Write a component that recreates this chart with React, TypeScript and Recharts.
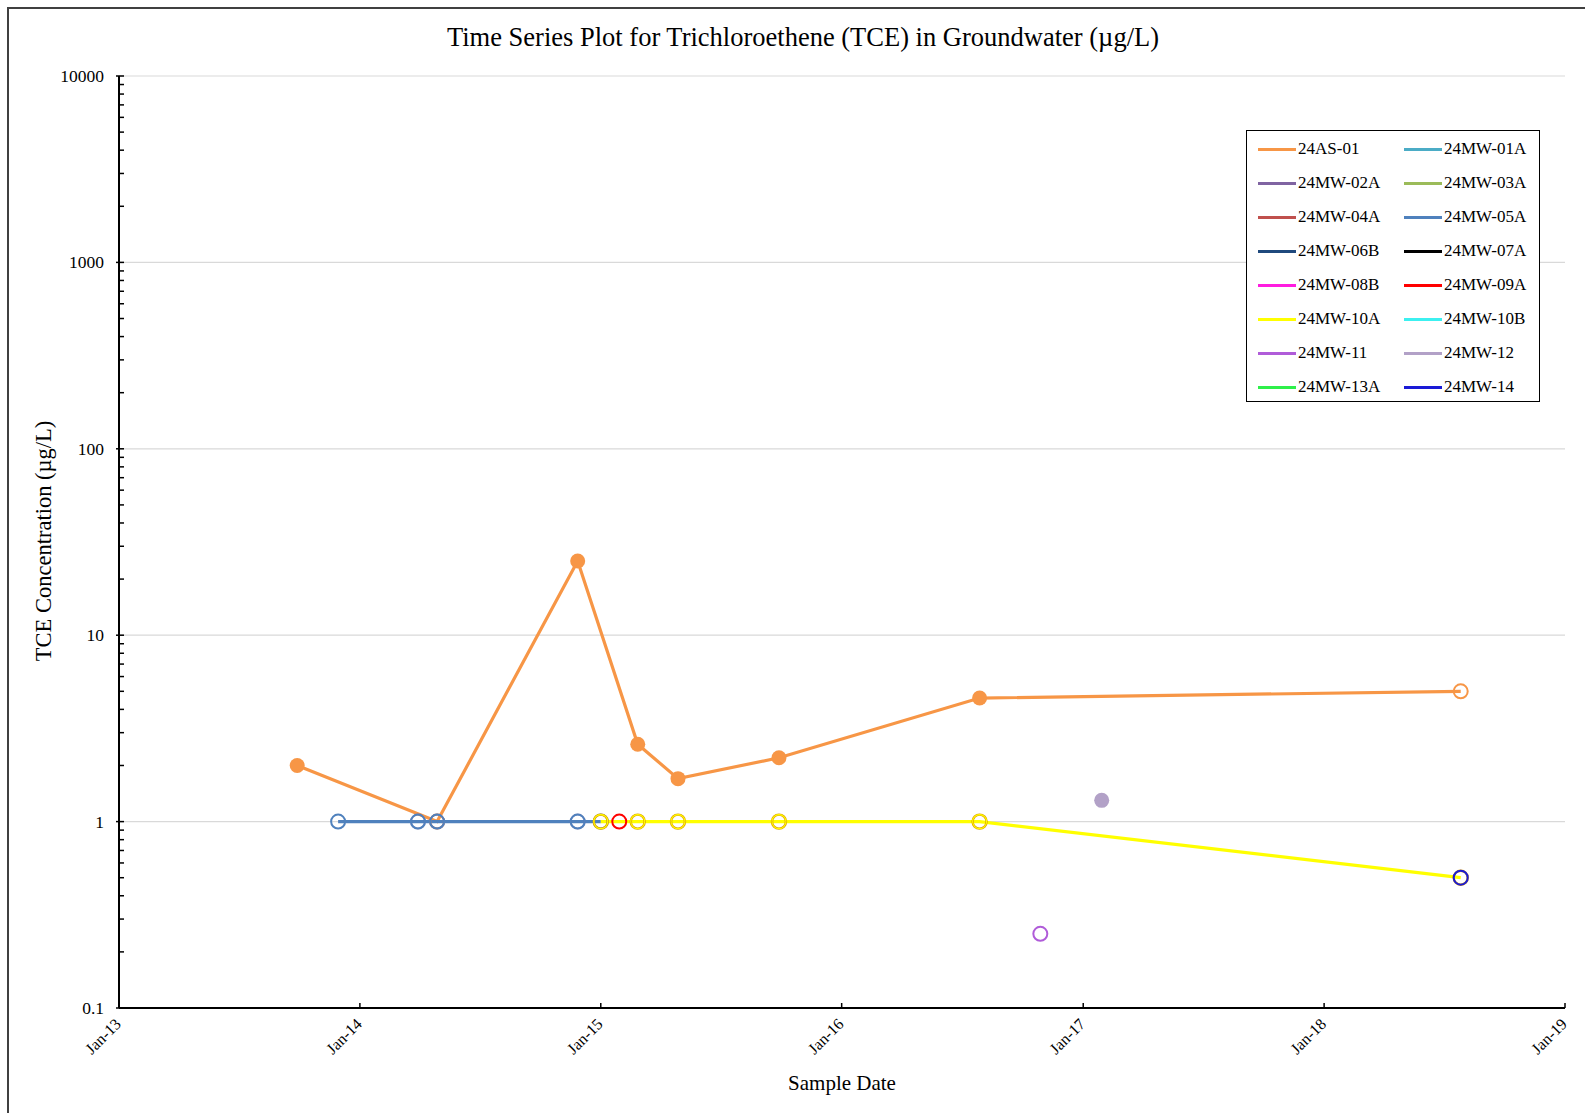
import { LineChart, Line, XAxis, YAxis, ReferenceLine } from 'recharts';

const FONT = '"Liberation Serif", "Times New Roman", serif';

// wells, in legend order (later wells draw on top)
const WELLS = [
  '24AS-01', '24MW-01A', '24MW-02A', '24MW-03A', '24MW-04A', '24MW-05A', '24MW-06B', '24MW-07A',
  '24MW-08B', '24MW-09A', '24MW-10A', '24MW-10B', '24MW-11', '24MW-12', '24MW-13A', '24MW-14',
];
const WELL_COLORS = [
  '#F79646', '#4BACC6', '#8064A2', '#9BBB59', '#C0504D', '#4F81BD', '#1F497D', '#000000',
  '#FF1CE0', '#FF0000', '#FFFF00', '#3CF0F0', '#B05CD9', '#B2A1C7', '#2EF04A', '#1A1AD6',
];

// sample results (ug/L); detect=false -> non-detect, hollow marker at reporting limit
const AS01_DATES = ['2013-09-28', '2014-04-28', '2014-11-27', '2015-02-26', '2015-04-28', '2015-09-28', '2016-07-28', '2018-07-27'];
const AS01_VALUES = [2.0, 1.0, 25, 2.6, 1.7, 2.2, 4.6, 5.0];
const AS01_DETECT = [true, false, true, true, true, true, true, false];

const MW02A_DATES = ['2014-03-30', '2014-04-28', '2014-11-27'];
const MW02A_VALUES = [1, 1, 1];
const MW02A_DETECT = [false, false, false];

const MW05A_DATES = ['2013-11-29', '2014-03-30', '2014-04-28', '2014-11-27', '2015-01-01'];
const MW05A_VALUES = [1, 1, 1, 1, 1];
const MW05A_DETECT = [false, false, false, false, false];

const MW09A_DATES = ['2015-01-29'];
const MW09A_VALUES = [1];
const MW09A_DETECT = [false];

const MW10A_DATES = ['2015-01-01', '2015-02-26', '2015-04-28', '2015-09-28', '2016-07-28', '2018-07-27'];
const MW10A_VALUES = [1, 1, 1, 1, 1, 0.5];
const MW10A_DETECT = [false, false, false, false, false, false];

const MW11_DATES = ['2016-10-28'];
const MW11_VALUES = [0.25];
const MW11_DETECT = [false];

const MW12_DATES = ['2017-01-29'];
const MW12_VALUES = [1.3];
const MW12_DETECT = [true];

const MW14_DATES = ['2018-07-27'];
const MW14_VALUES = [0.5];
const MW14_DETECT = [false];

const X_TICKS = ['2013-01-01', '2014-01-01', '2015-01-01', '2016-01-01', '2017-01-01', '2018-01-01', '2019-01-01'];
const MAJOR_TICKS = [0.1, 1, 10, 100, 1000, 10000];
const MINOR_TICKS = MAJOR_TICKS.slice(0, -1).flatMap(d => [2, 3, 4, 5, 6, 7, 8, 9].map(k => d * k));

const toTime = (s: string) => Date.parse(s + 'T00:00:00Z');

const rows = (dates: string[], values: number[], detect: boolean[]) =>
  dates.map((d, i) => ({ t: toTime(d), v: values[i], detect: detect[i] }));

const SERIES_DATA: Record<string, { t: number; v: number; detect: boolean }[]> = {
  '24AS-01': rows(AS01_DATES, AS01_VALUES, AS01_DETECT),
  '24MW-02A': rows(MW02A_DATES, MW02A_VALUES, MW02A_DETECT),
  '24MW-05A': rows(MW05A_DATES, MW05A_VALUES, MW05A_DETECT),
  '24MW-09A': rows(MW09A_DATES, MW09A_VALUES, MW09A_DETECT),
  '24MW-10A': rows(MW10A_DATES, MW10A_VALUES, MW10A_DETECT),
  '24MW-11': rows(MW11_DATES, MW11_VALUES, MW11_DETECT),
  '24MW-12': rows(MW12_DATES, MW12_VALUES, MW12_DETECT),
  '24MW-14': rows(MW14_DATES, MW14_VALUES, MW14_DETECT),
};

const makeDot = (color: string, ring?: string) => (props: any) => {
  const { cx, cy, payload, index } = props;
  if (cx == null || cy == null) return <g key={index} />;
  if (payload.detect) {
    return <circle key={index} cx={cx} cy={cy} r={7.5} fill={color} stroke="none" />;
  }
  return (
    <g key={index}>
      {ring && <circle cx={cx} cy={cy} r={7} fill="none" stroke={ring} strokeWidth={2.4} />}
      <circle cx={cx} cy={cy} r={7} fill="none" stroke={color} strokeWidth={ring ? 1.1 : 2} />
    </g>
  );
};

const fmtYear = (t: number) => 'Jan-' + String(new Date(t).getUTCFullYear()).slice(2);

function XTick({ x, y, payload }: any) {
  return (
    <g>
      <line x1={x} x2={x} y1={y} y2={y - 5} stroke="#000" strokeWidth={1.5} />
      <text
        transform={`translate(${x + 3},${y + 17}) rotate(-45)`}
        textAnchor="end"
        fontSize={16}
        fontFamily={FONT}
        fill="#000"
      >
        {fmtYear(payload.value)}
      </text>
    </g>
  );
}

function YTick({ x, y, payload }: any) {
  const major = MAJOR_TICKS.includes(payload.value);
  return (
    <g>
      <line x1={major ? x - 3 : x} x2={x + 5} y1={y} y2={y} stroke="#000" strokeWidth={1.5} />
      {major && (
        <text x={x - 15} y={y + 6} textAnchor="end" fontSize={17.5} fontFamily={FONT} fill="#000">
          {String(payload.value)}
        </text>
      )}
    </g>
  );
}

export default function App() {
  const allTicks = [...MAJOR_TICKS, ...MINOR_TICKS].sort((a, b) => a - b);
  return (
    <div style={{ position: 'absolute', left: 0, top: 0, width: 1585, height: 1113, overflow: 'hidden', background: '#fff', fontFamily: FONT }}>
      {/* chart frame */}
      <div style={{ position: 'absolute', left: 7, top: 7, width: 1640, height: 1200, border: '2px solid #404040' }} />

      <div style={{ position: 'absolute', left: 0, top: 23, width: 1606, textAlign: 'center', fontSize: 26.5, lineHeight: '28px', color: '#000', whiteSpace: 'nowrap' }}>
        Time Series Plot for Trichloroethene (TCE) in Groundwater (µg/L)
      </div>

      <div style={{ position: 'absolute', left: 44, top: 541, transform: 'translate(-50%, -50%) rotate(-90deg)', fontSize: 22.5, whiteSpace: 'nowrap', color: '#000' }}>
        TCE Concentration (µg/L)
      </div>

      <div style={{ position: 'absolute', left: 842, top: 1083, transform: 'translate(-50%, -50%)', fontSize: 21, whiteSpace: 'nowrap', color: '#000' }}>
        Sample Date
      </div>

      <div style={{ position: 'absolute', left: 0, top: 0 }}>
        <LineChart width={1585} height={1113} margin={{ top: 76, right: 20, bottom: 45, left: 9 }}>
          <XAxis
            dataKey="t"
            type="number"
            domain={[toTime(X_TICKS[0]), toTime(X_TICKS[X_TICKS.length - 1])]}
            ticks={X_TICKS.map(toTime)}
            interval={0}
            allowDataOverflow
            height={60}
            axisLine={{ stroke: '#000', strokeWidth: 2 }}
            tickLine={false}
            tickSize={0}
            tickMargin={0}
            tick={<XTick />}
          />
          <YAxis
            dataKey="v"
            type="number"
            scale="log"
            domain={[0.1, 10000]}
            ticks={allTicks}
            interval={0}
            allowDataOverflow
            width={110}
            axisLine={{ stroke: '#000', strokeWidth: 2 }}
            tickLine={false}
            tickSize={0}
            tickMargin={0}
            tick={<YTick />}
          />
          {MAJOR_TICKS.slice(1).map(v => (
            <ReferenceLine key={v} y={v} stroke="#D9D9D9" strokeWidth={1.2} />
          ))}
          {WELLS.map((w, i) => {
            const data = SERIES_DATA[w];
            if (!data) return null;
            const color = WELL_COLORS[i];
            const isBlend = w === '24MW-02A';
            return (
              <Line
                key={w}
                data={data}
                dataKey="v"
                name={w}
                type="linear"
                stroke={color}
                strokeWidth={3.2}
                strokeOpacity={isBlend ? 0 : 1}
                dot={isBlend ? makeDot('rgba(128,100,162,0.55)') : makeDot(color, w === '24MW-10A' ? '#E0A000' : undefined)}
                activeDot={false}
                isAnimationActive={false}
              />
            );
          })}
        </LineChart>
      </div>

      {/* legend */}
      <div style={{ position: 'absolute', left: 1246, top: 130, width: 294, height: 272, border: '1.5px solid #000', boxSizing: 'border-box', background: '#fff' }}>
        {WELLS.map((w, i) => {
          const row = Math.floor(i / 2);
          const col = i % 2;
          return (
            <div key={w} style={{ position: 'absolute', left: 11 + col * 146, top: 18 + row * 34 - 10, height: 20, display: 'flex', alignItems: 'center', whiteSpace: 'nowrap' }}>
              <div style={{ width: 38, height: 3, background: WELL_COLORS[i], marginRight: 2 }} />
              <span style={{ fontSize: 17, color: '#000' }}>{w}</span>
            </div>
          );
        })}
      </div>
    </div>
  );
}
